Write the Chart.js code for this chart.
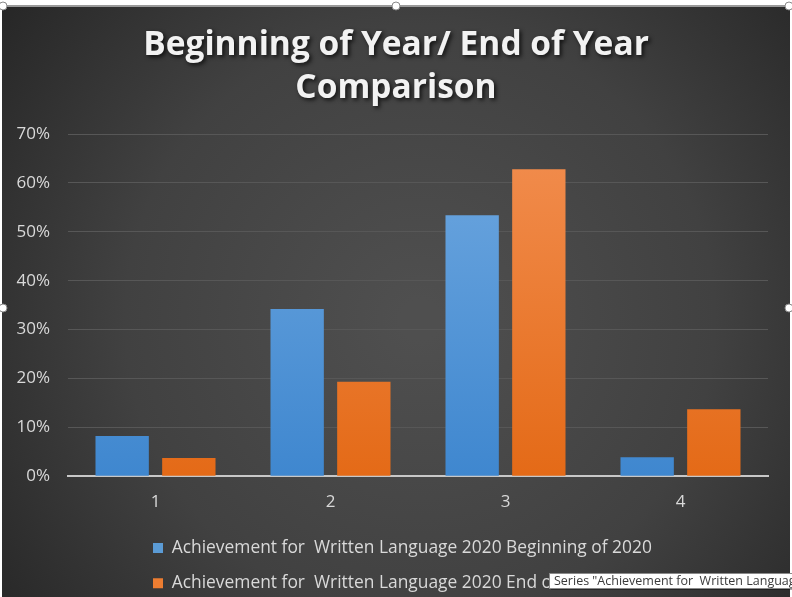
<!DOCTYPE html>
<html>
<head>
<meta charset="utf-8">
<style>
  html, body { margin: 0; padding: 0; background: #ffffff; }
  #wrap { width: 792px; height: 597px; position: relative; }
</style>
<script src="https://cdn.jsdelivr.net/npm/chart.js@4/dist/chart.umd.min.js"></script>
</head>
<body>
<div id="wrap"><canvas id="chart" width="792" height="597"></canvas></div>
<script>
// Categories and series values (fractions, shown as percentages)
const categories = ['1', '2', '3', '4'];
const beginning2020 = [0.082, 0.342, 0.534, 0.039];
const end2020 = [0.037, 0.193, 0.628, 0.137];
const seriesNames = [
  'Achievement for  Written Language 2020 Beginning of 2020',
  'Achievement for  Written Language 2020 End of 2020'
];
const titleLines = ['Beginning of Year/ End of Year', 'Comparison'];
const yTicks = [0, 0.1, 0.2, 0.3, 0.4, 0.5, 0.6, 0.7];
const hoverNote = 'Series "Achievement for  Written Language 2020 End of 2020"';

const FONT = '"Open Sans", "DejaVu Sans", sans-serif';

function barGradient(top, bottom) {
  return (ctx) => {
    const chart = ctx.chart;
    const area = chart.chartArea;
    if (!area) return bottom;
    const g = chart.ctx.createLinearGradient(0, area.top, 0, area.bottom);
    g.addColorStop(0, top);
    g.addColorStop(1, bottom);
    return g;
  };
}

// Dark radial backdrop, frame line, selection handles and hover note
const decor = {
  id: 'decor',
  beforeDraw(chart) {
    const c = chart.ctx;
    const W = chart.width, H = chart.height;
    c.save();
    c.fillStyle = '#ffffff';
    c.fillRect(0, 0, W, H);
    const g = c.createRadialGradient(420, 320, 20, 420, 320, 520);
    g.addColorStop(0, '#4f4f4f');
    g.addColorStop(0.55, '#414141');
    g.addColorStop(1, '#272727');
    c.fillStyle = g;
    c.fillRect(2, 6, W - 4, H - 6);
    c.strokeStyle = '#9a9a9a';
    c.lineWidth = 2;
    c.beginPath();
    c.moveTo(2, 6); c.lineTo(W - 2, 6);
    c.stroke();
    c.restore();
  },
  afterLayout(chart) {
    // legend entries start at a common left edge
    if (chart.legend) {
      chart.legend.left = 153 - chart.legend.options.labels.padding;
    }
    const tb = chart.titleBlock;
    if (tb && !tb._shadowWrapped) {
      const orig = tb.draw.bind(tb);
      tb.draw = function (area) {
        const c = chart.ctx;
        c.save();
        c.shadowColor = 'rgba(0,0,0,0.75)';
        c.shadowBlur = 4;
        c.shadowOffsetX = 2;
        c.shadowOffsetY = 2;
        orig(area);
        c.restore();
      };
      tb._shadowWrapped = true;
    }
  },
  afterDraw(chart) {
    const c = chart.ctx;
    c.save();
    // selection handles
    const handles = [[3, 6], [396, 6], [789, 6], [3, 308], [789, 308]];
    handles.forEach(([x, y]) => {
      c.beginPath();
      c.arc(x, y, 4, 0, Math.PI * 2);
      c.fillStyle = '#ffffff';
      c.fill();
      c.strokeStyle = '#8a8a8a';
      c.lineWidth = 1;
      c.stroke();
    });
    // hover note box
    const bx = 549, by = 573, bw = 250, bh = 15;
    c.fillStyle = 'rgba(0,0,0,0.35)';
    c.fillRect(bx + 2, by + 2, bw, bh);
    c.fillStyle = '#ffffff';
    c.fillRect(bx, by, bw, bh);
    c.strokeStyle = '#8a8a8a';
    c.strokeRect(bx + 0.5, by + 0.5, bw, bh);
    c.beginPath();
    c.rect(bx + 1, by + 1, 792 - bx - 1, bh - 1);
    c.clip();
    c.fillStyle = '#3b3b3b';
    c.font = '12.5px ' + FONT;
    c.textBaseline = 'middle';
    c.fillText(hoverNote, bx + 5, by + bh / 2 + 1);
    c.restore();
  }
};

new Chart(document.getElementById('chart'), {
  type: 'bar',
  data: {
    labels: categories,
    datasets: [
      {
        label: seriesNames[0],
        data: beginning2020,
        backgroundColor: barGradient('#6fa8e0', '#3f87cf'),
        borderWidth: 0
      },
      {
        label: seriesNames[1],
        data: end2020,
        backgroundColor: barGradient('#f28e50', '#e46a17'),
        borderWidth: 0
      }
    ]
  },
  plugins: [decor],
  options: {
    responsive: false,
    animation: false,
    devicePixelRatio: 1,
    categoryPercentage: 0.762,
    barPercentage: 0.8,
    layout: { padding: { left: 0, right: 0, top: 7, bottom: -5 } },
    plugins: {
      tooltip: { enabled: false },
      title: {
        display: true,
        text: titleLines,
        color: '#f2f2f2',
        font: { family: FONT, size: 33.5, weight: 'bold', lineHeight: 1.284 },
        padding: { top: 17, bottom: 24 }
      },
      legend: {
        position: 'bottom',
        align: 'start',
        labels: {
          color: '#d9d9d9',
          font: { family: FONT, size: 17.4 },
          boxWidth: 10,
          boxHeight: 10,
          padding: 18,
          generateLabels(chart) {
            const cols = ['#5b9bd5', '#ed7d31'];
            return chart.data.datasets.map((ds, i) => ({
              text: ds.label,
              fillStyle: cols[i],
              strokeStyle: cols[i],
              lineWidth: 0,
              fontColor: '#d9d9d9',
              datasetIndex: i,
              hidden: false
            }));
          }
        }
      }
    },
    scales: {
      x: {
        grid: { display: false, drawTicks: false },
        border: { display: true, color: '#c8c8c8', width: 2 },
        ticks: { color: '#d9d9d9', font: { family: FONT, size: 17 }, padding: 16 },
        afterFit(scale) { scale.height = 45; }
      },
      y: {
        min: 0,
        max: 0.7,
        afterBuildTicks(scale) {
          scale.ticks = yTicks.map(v => ({ value: v }));
        },
        afterFit(scale) { scale.width = 68; },
        grid: { color: '#575757', lineWidth: 1, drawTicks: false },
        border: { display: false },
        ticks: {
          color: '#d9d9d9',
          font: { family: FONT, size: 17 },
          padding: 18,
          callback: v => Math.round(v * 100) + '%'
        }
      },
      yRight: {
        position: 'right',
        display: true,
        min: 0,
        max: 1,
        grid: { display: false, drawTicks: false },
        border: { display: false },
        ticks: { display: false },
        afterFit(scale) { scale.width = 24; }
      }
    }
  }
});
</script>
</body>
</html>
